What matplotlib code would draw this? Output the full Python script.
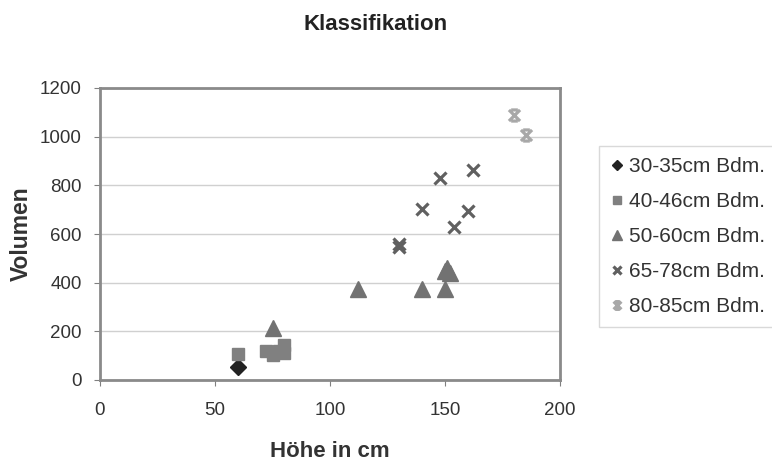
import matplotlib.pyplot as plt
from matplotlib.path import Path

plt.rcParams["font.family"] = ["Liberation Sans", "DejaVu Sans"]

# Data
h_30 = [60]
v_30 = [52]

h_40 = [60, 72, 75, 80, 80, 78]
v_40 = [105, 118, 103, 145, 112, 120]

h_50 = [75, 112, 140, 150, 151, 152, 150]
v_50 = [212, 375, 375, 375, 460, 440, 450]

h_65 = [130, 130, 140, 148, 162, 160, 154]
v_65 = [560, 545, 703, 832, 865, 695, 627]

h_80 = [180, 185]
v_80 = [1090, 1007]

labels = ["30-35cm Bdm.", "40-46cm Bdm.", "50-60cm Bdm.", "65-78cm Bdm.", "80-85cm Bdm."]

# x marker with caps for the last group
cap_x = Path([(-1, -1), (1, 1), (-1, 1), (1, -1), (-0.6, 1), (0.6, 1), (-0.6, -1), (0.6, -1)],
             [Path.MOVETO, Path.LINETO, Path.MOVETO, Path.LINETO,
              Path.MOVETO, Path.LINETO, Path.MOVETO, Path.LINETO])

fig = plt.figure(figsize=(7.72, 4.63), dpi=100)
ax = fig.add_axes([100 / 772, 1 - 380 / 463, 460 / 772, 292 / 463])

ax.plot(h_30, v_30, ls="none", marker="D", ms=8, color="#222222", label=labels[0], zorder=3)
ax.plot(h_40, v_40, ls="none", marker="s", ms=9, color="#808080", label=labels[1], zorder=3)
ax.plot(h_50, v_50, ls="none", marker="^", ms=11, color="#727272", label=labels[2], zorder=3)
ax.plot(h_65, v_65, ls="none", marker="x", ms=8, mew=2.3, color="#606060", label=labels[3], zorder=3)
ax.plot(h_80, v_80, ls="none", marker=cap_x, ms=8, mew=2.3, mfc="none", color="#a8a8a8",
        label=labels[4], zorder=3)

ax.set_xlim(0, 200)
ax.set_ylim(0, 1200)
ax.set_xticks([0, 50, 100, 150, 200])
ax.set_yticks(range(0, 1201, 200))
ax.yaxis.grid(True, color="#d0d0d0", linewidth=1)
ax.set_axisbelow(True)
ax.tick_params(labelsize=13.5, color="#808080", length=4, labelcolor="#333333")
ax.tick_params(axis="x", pad=12)
ax.tick_params(axis="y", pad=9)
for s in ax.spines.values():
    s.set_color("#8a8a8a")
    s.set_linewidth(2)

ax.set_xlabel("Höhe in cm", fontsize=16, fontweight="bold", color="#333333", labelpad=16)
ax.set_ylabel("Volumen", fontsize=16.5, fontweight="bold", color="#333333", labelpad=5)
fig.text(376 / 772, 1 - 24 / 463, "Klassifikation", fontsize=16, fontweight="bold",
         color="#222222", ha="center", va="center")

leg = ax.legend(loc="upper left", bbox_to_anchor=((599 - 100) / 460, (380 - 146) / 292),
                frameon=True, fancybox=False, fontsize=15, handletextpad=0.3,
                handlelength=0.6, labelspacing=0.76, borderpad=0.55, borderaxespad=0,
                markerscale=0.7, labelcolor="#333333")
leg.get_frame().set_edgecolor("#d0d0d0")
leg.get_frame().set_linewidth(1)

plt.savefig("out.png", dpi=100)
